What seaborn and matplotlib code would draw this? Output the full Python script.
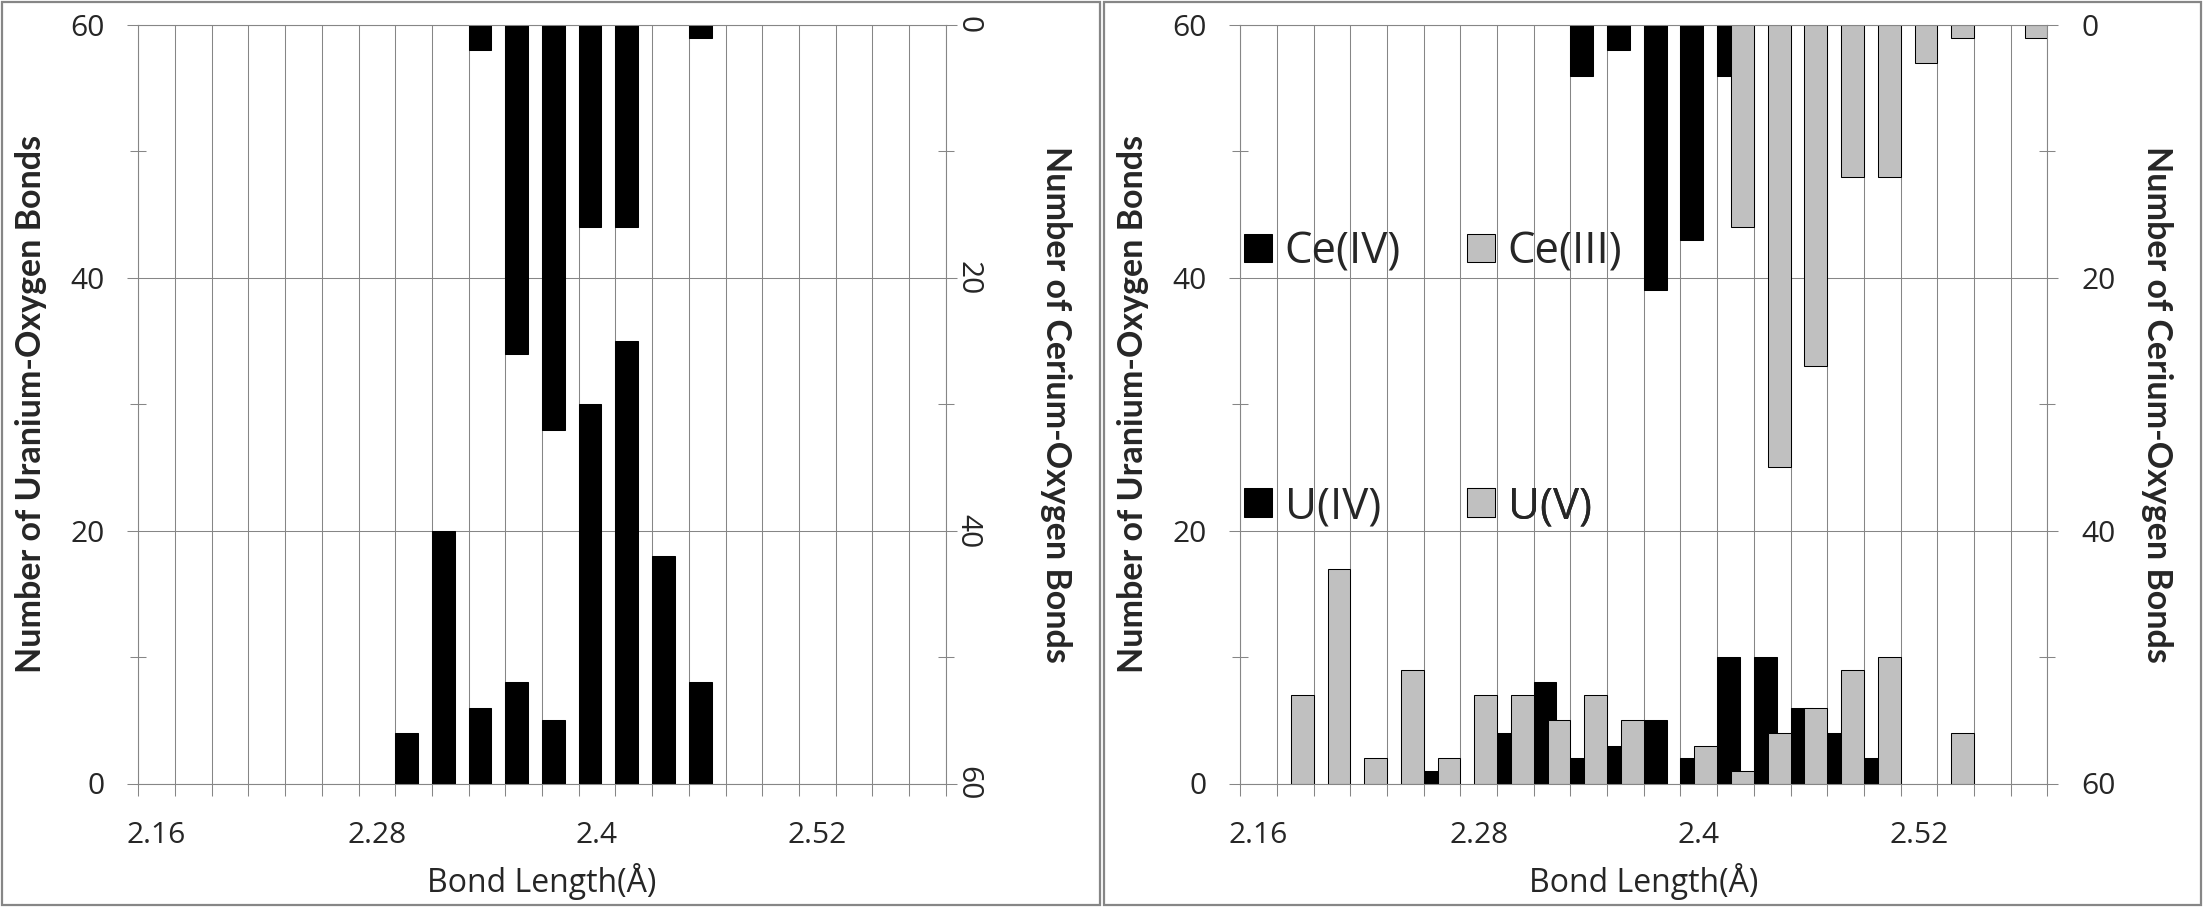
import numpy as np
import pandas as pd
import matplotlib
matplotlib.use("Agg")
import matplotlib.pyplot as plt
from matplotlib.patches import Patch, Rectangle
from matplotlib.ticker import FixedLocator, FixedFormatter, NullFormatter
import seaborn as sns

# bond length bins (one category per 0.02 A)
bond_lengths = ["2.16", "2.18", "2.20", "2.22", "2.24", "2.26", "2.28", "2.30",
                "2.32", "2.34", "2.36", "2.38", "2.40", "2.42", "2.44", "2.46",
                "2.48", "2.50", "2.52", "2.54", "2.56", "2.58"]
label_bins = ["2.16", "2.28", "2.40", "2.52"]
label_text = ["2.16", "2.28", "2.4", "2.52"]

# left panel
left_u4 = [0, 0, 0, 0, 0, 0, 0, 4, 20, 6, 8, 5, 30, 35, 18, 8, 0, 0, 0, 0, 0, 0]
left_ce4 = [0, 0, 0, 0, 0, 0, 0, 0, 0, 2, 26, 32, 16, 16, 0, 1, 0, 0, 0, 0, 0, 0]

# right panel
right_u4 = [0, 0, 0, 0, 0, 1, 0, 4, 8, 2, 3, 5, 2, 10, 10, 6, 4, 2, 0, 0, 0, 0]
right_u5 = [0, 7, 17, 2, 9, 2, 7, 7, 5, 7, 5, 0, 3, 1, 4, 6, 9, 10, 0, 4, 0, 0]
right_ce4 = [0, 0, 0, 0, 0, 0, 0, 0, 0, 4, 2, 21, 17, 4, 0, 0, 0, 0, 0, 0, 0, 0]
right_ce3 = [0, 0, 0, 0, 0, 0, 0, 0, 0, 0, 0, 0, 0, 16, 35, 27, 12, 12, 3, 1, 0, 1]

BLACK = "#000000"
GREY = "#C0C0C0"
LINE = "#868686"
BAR_W = 0.62
BOLD_FONT = ["Lato", "DejaVu Sans"]

W, H, DPI = 2204, 907, 100

sns.set_theme(style="white")
plt.rcParams["font.family"] = ["Open Sans", "DejaVu Sans"]


def px_rect(x0, x1, top, bottom):
    return [x0 / W, 1 - bottom / H, (x1 - x0) / W, (bottom - top) / H]


def draw_series(ax, values, color, side):
    # black series sits on the left of each bin, grey series on the right
    offset = BAR_W / 2 if side == "left" else 1 - BAR_W / 2
    df = pd.DataFrame({"pos": np.arange(len(bond_lengths)) + offset,
                       "count": values})
    df = df[df["count"] > 0]
    step = np.diff(df["pos"].values).min()
    sns.barplot(data=df, x="pos", y="count", orient="x", native_scale=True,
                width=BAR_W / step, color=color, saturation=1,
                edgecolor="black", linewidth=0.75, errorbar=None, ax=ax)


def style_panel(ax, ax2, rotate_right):
    n = len(bond_lengths)
    ax.set_xlim(0, n)
    ax.set_ylim(0, 60)
    ax2.set_ylim(60, 0)

    ax.xaxis.set_major_locator(FixedLocator(np.arange(n + 1)))
    ax.xaxis.set_major_formatter(NullFormatter())
    ax.xaxis.set_minor_locator(FixedLocator([bond_lengths.index(b) + 0.5 for b in label_bins]))
    ax.xaxis.set_minor_formatter(FixedFormatter(label_text))
    for a in (ax, ax2):
        a.yaxis.set_major_locator(FixedLocator([0, 20, 40, 60]))
        a.yaxis.set_minor_locator(FixedLocator([10, 30, 50]))
        a.yaxis.set_major_formatter(FixedFormatter(["0", "20", "40", "60"]))
        for s in a.spines.values():
            s.set_color(LINE)
            s.set_linewidth(0.75)

    ax.grid(True, which="major", color=LINE, linewidth=0.75)
    ax.set_axisbelow(True)
    ax2.grid(False)

    ax.tick_params(axis="x", which="major", direction="out", length=8.6,
                   width=0.75, color=LINE, bottom=True)
    ax.tick_params(axis="x", which="minor", length=0, pad=26.8, labelsize=21.5,
                   bottom=True)
    ax.tick_params(axis="y", which="major", direction="out", length=8, width=0.75,
                   color=LINE, pad=16.5, labelsize=21.5, left=True, right=False)
    ax.tick_params(axis="y", which="minor", direction="inout", length=12,
                   width=0.75, color=LINE, left=True, right=False)
    ax2.tick_params(axis="y", which="major", direction="out", length=8, width=0.75,
                    color=LINE, labelsize=21.5, right=True, left=False,
                    pad=-2.6 if rotate_right else 16.4,
                    labelrotation=-90 if rotate_right else 0)
    ax2.tick_params(axis="y", which="minor", direction="inout", length=12,
                    width=0.75, color=LINE, right=True, left=False)
    if rotate_right:
        for t in ax2.get_yticklabels():
            t.set_va("center")

    ax.set_xlabel("Bond Length(Å)", fontsize=23)
    ax.xaxis.label.set_va("baseline")
    ax.xaxis.set_label_coords(0.5, -0.1427)

    ax.set_ylabel("Number of Uranium-Oxygen Bonds", fontsize=24.5,
                  fontweight="bold", family=BOLD_FONT)
    ax.yaxis.label.set(va="center", ha="center", rotation=90, rotation_mode="anchor")
    ax.yaxis.set_label_coords(-0.1329, 0.5)

    ax2.set_ylabel("Number of Cerium-Oxygen Bonds", fontsize=24.5,
                   fontweight="bold", family=BOLD_FONT)
    ax2.yaxis.label.set(va="center", ha="center", rotation=-90, rotation_mode="anchor")
    ax2.yaxis.set_label_coords(1.136, 0.5)


def add_key(ax, label, color, x, y):
    handle = Patch(facecolor=color, edgecolor="black", linewidth=0.75)
    leg = ax.legend(handles=[handle], labels=[label], loc="center left",
                    bbox_to_anchor=(x, y), bbox_transform=ax.transAxes,
                    frameon=False, fontsize=31.5, handlelength=0.64,
                    handleheight=0.63, handletextpad=0.29, borderpad=0,
                    borderaxespad=0)
    ax.add_artist(leg)


fig = plt.figure(figsize=(W / DPI, H / DPI), dpi=DPI)

# left panel
axL = fig.add_axes(px_rect(138.3, 945.7, 25, 783.5))
axL2 = axL.twinx()
draw_series(axL, left_u4, BLACK, "left")
draw_series(axL2, left_ce4, BLACK, "left")
style_panel(axL, axL2, rotate_right=True)

# right panel
axR = fig.add_axes(px_rect(1240.3, 2047.3, 25, 783.5))
axR2 = axR.twinx()
draw_series(axR, right_u4, BLACK, "left")
draw_series(axR, right_u5, GREY, "right")
draw_series(axR2, right_ce4, BLACK, "left")
draw_series(axR2, right_ce3, GREY, "right")
style_panel(axR, axR2, rotate_right=False)

add_key(axR2, "Ce(IV)", BLACK, 0.0046, 0.7007)
add_key(axR2, "Ce(III)", GREY, 0.281, 0.7007)
add_key(axR2, "U(IV)", BLACK, 0.0046, 0.3648)
add_key(axR2, "U(V)", GREY, 0.281, 0.3648)

# panel frames
for x0, x1 in [(2, 1100), (1104, 2200.5)]:
    fig.add_artist(Rectangle((x0 / W, 1 - 905 / H), (x1 - x0) / W, 903 / H,
                             transform=fig.transFigure, fill=False,
                             edgecolor=LINE, linewidth=1.6))

fig.savefig("out.png", dpi=DPI)
